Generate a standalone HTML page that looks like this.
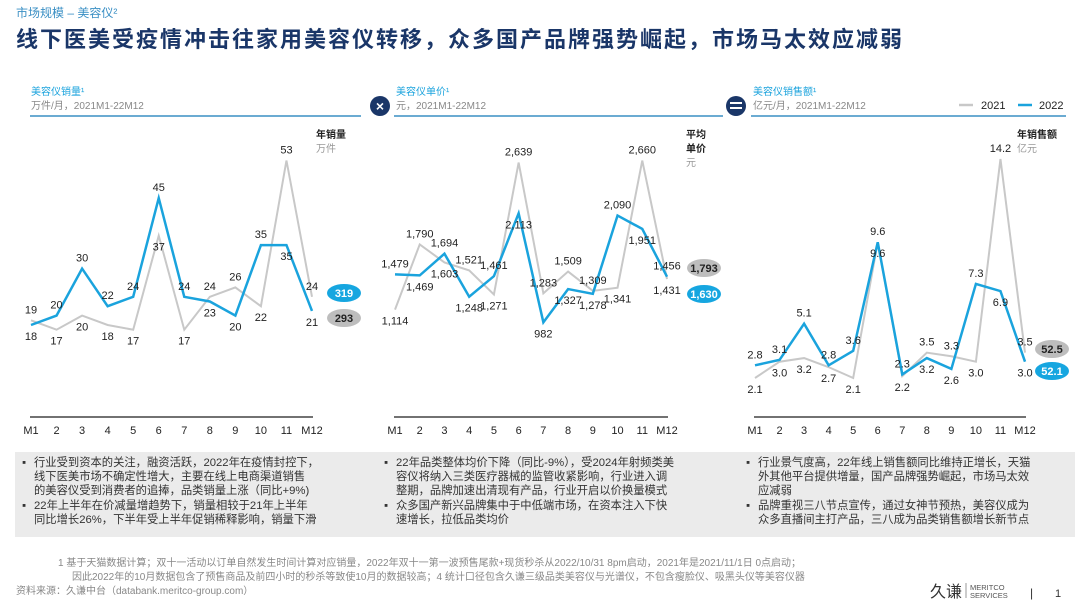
<!DOCTYPE html>
<html><head><meta charset="utf-8"><style>
html,body{margin:0;padding:0;background:#fff;}
svg{display:block;font-family:"Liberation Sans","Noto Sans CJK SC",sans-serif;}
</style></head><body>
<svg id="page" width="1080" height="607" viewBox="0 0 1080 607" xmlns="http://www.w3.org/2000/svg">
<text x="16" y="17" font-size="12" fill="#3a8fc4">市场规模 – 美容仪²</text>
<text x="16" y="47" font-size="22" font-weight="bold" fill="#1a3668" letter-spacing="2">线下医美受疫情冲击往家用美容仪转移，众多国产品牌强势崛起，市场马太效应减弱</text>

<g>
<text x="31" y="95" font-size="10" fill="#1aa3dd">美容仪销量¹</text>
<text x="31" y="109" font-size="10" fill="#888">万件/月，2021M1-22M12</text>
<line x1="30" y1="116" x2="361" y2="116" stroke="#3a8fc4" stroke-width="1.5"/>
</g>
<g>
<circle cx="380" cy="106" r="10" fill="#1a3668"/>
<text x="380" y="111" font-size="14" fill="#fff" text-anchor="middle" font-weight="bold">×</text>
</g>
<g>
<text x="396" y="95" font-size="10" fill="#1aa3dd">美容仪单价¹</text>
<text x="396" y="109" font-size="10" fill="#888">元，2021M1-22M12</text>
<line x1="394" y1="116" x2="723" y2="116" stroke="#3a8fc4" stroke-width="1.5"/>
</g>
<g>
<circle cx="736" cy="106" r="10" fill="#1a3668"/>
<rect x="730" y="102" width="12" height="2" fill="#fff"/><rect x="730" y="107" width="12" height="2" fill="#fff"/>
</g>
<g>
<text x="753" y="95" font-size="10" fill="#1aa3dd">美容仪销售额¹</text>
<text x="753" y="109" font-size="10" fill="#888">亿元/月，2021M1-22M12</text>
<line x1="751" y1="116" x2="1066" y2="116" stroke="#3a8fc4" stroke-width="1.5"/>
</g>
<g>
<line x1="959" y1="105" x2="973" y2="105" stroke="#c8c8c8" stroke-width="2.5"/>
<text x="981" y="109" font-size="11" fill="#222">2021</text>
<line x1="1018" y1="105" x2="1032" y2="105" stroke="#1aa3dd" stroke-width="2.5"/>
<text x="1039" y="109" font-size="11" fill="#222">2022</text>
</g>

<g>
<text x="316" y="138" font-size="10" font-weight="bold" fill="#222">年销量</text>
<text x="316" y="152" font-size="10" fill="#999">万件</text>
<text x="686" y="138" font-size="10" font-weight="bold" fill="#222">平均</text>
<text x="686" y="152" font-size="10" font-weight="bold" fill="#222">单价</text>
<text x="686" y="166" font-size="10" fill="#999">元</text>
<text x="1017" y="138" font-size="10" font-weight="bold" fill="#222">年销售额</text>
<text x="1017" y="152" font-size="10" fill="#999">亿元</text>
</g>

<g id="charts"></g>

<rect x="15" y="452" width="1060" height="85" fill="#ebebeb"/>
<g font-size="11.3" fill="#333">
<text x="22" y="466">▪</text><text x="34" y="466">行业受到资本的关注，融资活跃，2022年在疫情封控下，</text>
<text x="34" y="480">线下医美市场不确定性增大，主要在线上电商渠道销售</text>
<text x="34" y="494">的美容仪受到消费者的追捧，品类销量上涨（同比+9%)</text>
<text x="22" y="509">▪</text><text x="34" y="509">22年上半年在价减量增趋势下，销量相较于21年上半年</text>
<text x="34" y="523">同比增长26%，下半年受上半年促销稀释影响，销量下滑</text>
</g>
<g font-size="11.3" fill="#333">
<text x="384" y="466">▪</text><text x="396" y="466">22年品类整体均价下降（同比-9%），受2024年射频类美</text>
<text x="396" y="480">容仪将纳入三类医疗器械的监管收紧影响，行业进入调</text>
<text x="396" y="494">整期，品牌加速出清现有产品，行业开启以价换量模式</text>
<text x="384" y="509">▪</text><text x="396" y="509">众多国产新兴品牌集中于中低端市场，在资本注入下快</text>
<text x="396" y="523">速增长，拉低品类均价</text>
</g>
<g font-size="11.3" fill="#333">
<text x="746" y="466">▪</text><text x="758" y="466">行业景气度高，22年线上销售额同比维持正增长，天猫</text>
<text x="758" y="480">外其他平台提供增量，国产品牌强势崛起，市场马太效</text>
<text x="758" y="494">应减弱</text>
<text x="746" y="509">▪</text><text x="758" y="509">品牌重视三八节点宣传，通过女神节预热，美容仪成为</text>
<text x="758" y="523">众多直播间主打产品，三八成为品类销售额增长新节点</text>
</g>

<g font-size="10" fill="#888">
<text x="58" y="566">1   基于天猫数据计算；双十一活动以订单自然发生时间计算对应销量，2022年双十一第一波预售尾款+现货秒杀从2022/10/31 8pm启动，2021年是2021/11/1日 0点启动；</text>
<text x="72" y="580">因此2022年的10月数据包含了预售商品及前四小时的秒杀等致使10月的数据较高；4   统计口径包含久谦三级品类美容仪与光谱仪，不包含瘦脸仪、吸黑头仪等美容仪器</text>
<text x="16" y="594">资料来源：久谦中台（databank.meritco-group.com）</text>
</g>
<g>
<text x="930" y="597" font-size="16" fill="#333">久谦</text>
<line x1="966" y1="583" x2="966" y2="598" stroke="#999"/>
<text x="970" y="590" font-size="7.5" fill="#555">MERITCO</text>
<text x="970" y="598" font-size="7.5" fill="#555">SERVICES</text>
<text x="1030" y="597" font-size="12" fill="#333">|</text>
<text x="1055" y="597" font-size="11" fill="#333">1</text>
</g>
</svg>
<script>
const months = ["M1","2","3","4","5","6","7","8","9","10","11","M12"];
const volume2021 = [19,17,20,18,17,37,17,24,26,22,53,24];
const volume2022 = [18,20,30,22,24,45,24,23,20,35,35,21];
const volumeTotals = ["293","319"];
const price2021 = [1114,1790,1603,1521,1271,2639,1283,1509,1309,1341,2660,1431];
const price2022 = [1479,1469,1694,1248,1461,2113,982,1327,1278,2090,1951,1456];
const priceTotals = ["1,793","1,630"];
const revenue2021 = [2.1,3.0,3.2,2.7,2.1,9.6,2.2,3.5,3.3,3.0,14.2,3.5];
const revenue2022 = [2.8,3.1,5.1,2.8,3.6,9.6,2.3,3.2,2.6,7.3,6.9,3.0];
const revenueTotals = ["52.5","52.1"];

const NS="http://www.w3.org/2000/svg";
const root=document.getElementById('charts');
function mk(tag,attrs,parent){const e=document.createElementNS(NS,tag);for(const k in attrs)e.setAttribute(k,attrs[k]);(parent||root).appendChild(e);return e;}

function drawChart(name,x0,x1,zeroY,scale,s21,s22,totals,fmt,badgeX,badgeYs){
  const g=mk('g',{});
  
  
  const xs=i=>x0+(x1-x0)*i/(months.length-1);
  const ys=v=>zeroY-v*scale;
  const ax=mk('line',{x1:x0-1,x2:x1+1,y1:417,y2:417,stroke:'#444','stroke-width':1.5},g);
  
  
  months.forEach((m,i)=>{
    const t=mk('text',{x:xs(i),y:434,'font-size':11,'text-anchor':'middle',fill:'#222'},g);
    t.textContent=m;
    
    
  });
  [[s21,'#c8c8c8','2021'],[s22,'#1aa3dd','2022']].forEach(([s,c,yr],k)=>{
    const p=mk('polyline',{points:s.map((v,i)=>xs(i)+','+ys(v)).join(' '),fill:'none',stroke:c,'stroke-width':k?2.5:2,'stroke-linejoin':'miter'},g);
    
    
  });
  [[s21,s22],[s22,s21]].forEach(([s,o],k)=>{
    s.forEach((v,i)=>{
      const above = v>o[i] || (v===o[i] && k===1);
      const y = above ? ys(v)-7 : ys(v)+15;
      const t=mk('text',{x:xs(i),y:y,'font-size':11,'text-anchor':'middle',fill:'#222'},g);
      t.textContent=fmt(v);
      
      
    });
  });
  totals.forEach((tv,k)=>{
    const e=mk('ellipse',{cx:badgeX,cy:badgeYs[k],rx:17,ry:9,fill:k?'#16a6e0':'#bdbdbd'},g);
    
    
    const t=mk('text',{x:badgeX,y:badgeYs[k]+4,'font-size':11,'font-weight':'bold','text-anchor':'middle',fill:k?'#fff':'#222'},g);
    t.textContent=tv;
    
    
  });
}
const comma=v=>v.toLocaleString('en-US');
drawChart('volume',31,312,409.6,4.7,volume2021,volume2022,volumeTotals,v=>String(v),344,[318,293]);
drawChart('price',395,667,417,0.0964,price2021,price2022,priceTotals,comma,704,[268,294]);
drawChart('revenue',755,1025,416,18.1,revenue2021,revenue2022,revenueTotals,v=>v.toFixed(1),1052,[349,371]);
</script>
</body></html>
